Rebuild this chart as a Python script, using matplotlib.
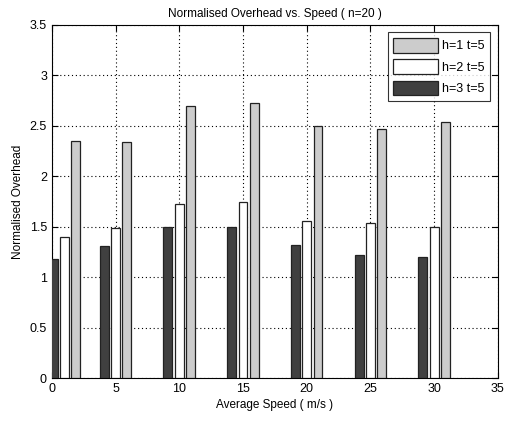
import matplotlib
matplotlib.use("Agg")
import matplotlib.pyplot as plt
import numpy as np

plt.rcParams['font.family'] = ['Liberation Sans', 'DejaVu Sans']

speeds = [1, 5, 10, 15, 20, 25, 30]
h1_t5 = [2.35, 2.34, 2.70, 2.73, 2.50, 2.47, 2.54]
h2_t5 = [1.40, 1.49, 1.73, 1.75, 1.56, 1.54, 1.50]
h3_t5 = [1.18, 1.31, 1.50, 1.50, 1.32, 1.22, 1.20]
labels = ['h=1 t=5', 'h=2 t=5', 'h=3 t=5']
xticks = [0, 5, 10, 15, 20, 25, 30, 35]
yticks = [0, 0.5, 1, 1.5, 2, 2.5, 3, 3.5]

fig = plt.figure(figsize=(5.08, 4.23), dpi=100)
ax = fig.add_axes([0.102, 0.106, 0.878, 0.835])

x = np.array(speeds, dtype=float)
step = 0.89
w = 0.70
edge = '#222222'
b1 = ax.bar(x + step, h1_t5, w, color='#cccccc', edgecolor=edge, linewidth=0.9, zorder=3, label=labels[0])
b2 = ax.bar(x, h2_t5, w, color='white', edgecolor=edge, linewidth=0.9, zorder=3, label=labels[1])
b3 = ax.bar(x - step, h3_t5, w, color='#404040', edgecolor=edge, linewidth=0.9, zorder=3, label=labels[2])

ax.set_xlim(0, 35)
ax.set_ylim(0, 3.5)
ax.set_xticks(xticks)
ax.set_yticks(yticks)
ax.set_yticklabels(['0', '0.5', '1', '1.5', '2', '2.5', '3', '3.5'])
ax.grid(True, color='black', linestyle=(0, (1, 2.5)), linewidth=0.8, zorder=0)
ax.tick_params(direction='in', top=True, right=True, labelsize=9, length=4, width=0.8)
for s in ax.spines.values():
    s.set_linewidth(0.8)

ax.set_title('Normalised Overhead vs. Speed ( n=20 )', fontsize=8.5, pad=6)
ax.set_xlabel('Average Speed ( m/s )', fontsize=8.5, labelpad=3)
ax.set_ylabel('Normalised Overhead', fontsize=8.5, labelpad=4)

leg = ax.legend(handles=[b1, b2, b3], loc='upper right', fontsize=9,
                handlelength=3.6, handleheight=1.4, frameon=True, fancybox=False,
                edgecolor='black', borderaxespad=0.6, labelspacing=0.55,
                handletextpad=0.3, borderpad=0.45)
leg.get_frame().set_linewidth(0.8)

fig.savefig('out.png', dpi=100, facecolor='white')
